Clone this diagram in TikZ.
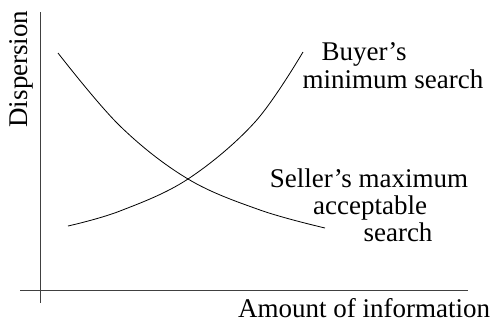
\documentclass[tikz,border=0pt]{standalone}
\usepackage{fontspec}
\setmainfont{Liberation Serif}
\begin{document}
\begin{tikzpicture}[x=1pt,y=-1pt,
  axis/.style={line width=0.8pt,black!75},
  curve/.style={line width=0.8pt,black},
  lbl/.style={inner sep=0pt,anchor=base,font=\fontsize{27}{30}\selectfont}]
\useasboundingbox (0,0) rectangle (494,322);
\coordinate (ytop) at (40,12);
\coordinate (ybot) at (40,303);
\coordinate (xl) at (20,290);
\coordinate (xr) at (468,290);
\draw[axis] (ytop) -- (ybot);
\draw[axis] (xl) -- (xr);
\draw[curve] plot[smooth,tension=0.6] coordinates {(68,226) (120,211) (188,179) (255,122) (303,52)};
\draw[curve] plot[smooth,tension=0.6] coordinates {(58,53) (120,126) (188,179) (260,210) (325,228)};
\node[lbl,rotate=90] (ylab) at (27,69) {Dispersion};
\node[lbl,text depth=0pt] (xlab) at (364,317) {Amount of information};
\node[lbl] (b1) at (364,60) {Buyer’s};
\node[lbl] (b2) at (393,88) {minimum search};
\node[lbl] (s1) at (369,187) {Seller’s maximum};
\node[lbl] (s2) at (370,214) {acceptable};
\node[lbl] (s3) at (398,241) {search};
\end{tikzpicture}
\end{document}
